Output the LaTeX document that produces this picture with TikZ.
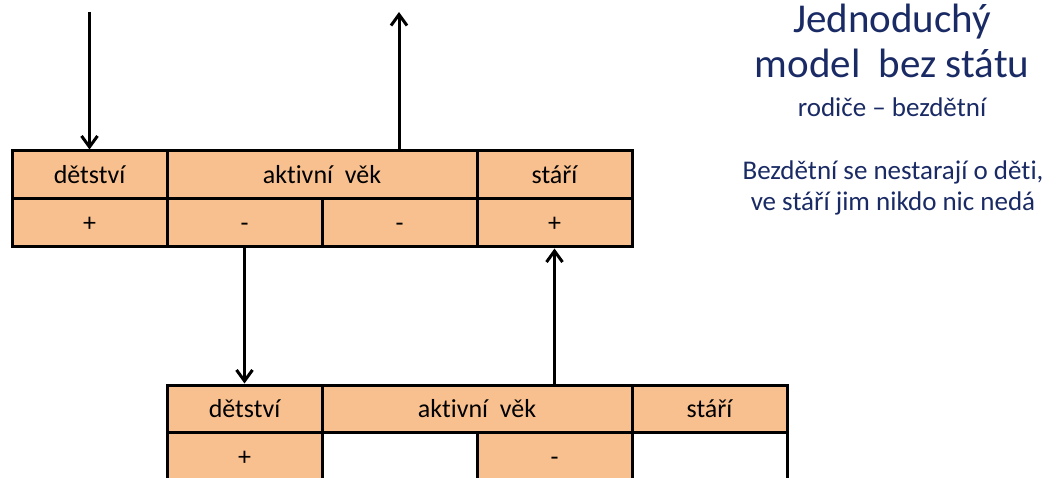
\documentclass[tikz,border=0pt]{standalone}
\usepackage{fontspec}
\setmainfont[RawFeature=-liga]{Carlito}
\usetikzlibrary{arrows.meta}
\definecolor{peach}{RGB}{249,192,143}
\definecolor{navy}{RGB}{25,42,100}
\tikzset{
  cell/.style={draw=black, line width=3pt, fill=peach, inner sep=0pt, minimum height=48pt, text height=20pt, text depth=2pt, font=\fontsize{26}{30}\selectfont, anchor=center},
  blank/.style={cell, fill=white},
  flow/.style={line width=3pt, -{Straight Barb[length=11pt,width=16pt,line width=3pt]}},
  note/.style={text=navy, align=center, inner sep=0pt, anchor=base}
}
\begin{document}
\begin{tikzpicture}[x=1pt,y=-1pt]
\useasboundingbox (0,0) rectangle (1063,478);
% top table
\node[cell, minimum width=155pt] (t11) at (89.5,175) {dětství};
\node[cell, minimum width=310pt] (t12) at (322,175) {aktivní\ \ věk};
\node[cell, minimum width=155pt] (t13) at (554.5,175) {stáří};
\node[cell, minimum width=155pt] (t21) at (89.5,223) {+};
\node[cell, minimum width=155pt] (t22) at (244.5,223) {-};
\node[cell, minimum width=155pt] (t23) at (399.5,223) {-};
\node[cell, minimum width=155pt] (t24) at (554.5,223) {+};
% bottom table
\node[cell, minimum width=155pt, minimum height=47pt] (b11) at (244.5,408.5) {dětství};
\node[cell, minimum width=310pt, minimum height=47pt] (b12) at (477,408.5) {aktivní\ \ věk};
\node[cell, minimum width=155pt, minimum height=47pt] (b13) at (709.5,408.5) {stáří};
\node[cell, minimum width=155pt] (b21) at (244.5,456) {+};
\node[blank, minimum width=155pt] (b22) at (399.5,456) {};
\node[cell, minimum width=155pt] (b23) at (554.5,456) {-};
\node[blank, minimum width=155pt] (b24) at (709.5,456) {};
% arrows
\coordinate (inTop) at (89.5,12);
\coordinate (outTop) at (399,12);
\draw[flow] (inTop) -- (t11.north);
\draw[flow] (t12.north -| outTop) -- (outTop);
\draw[flow] (t22.south) -- (b11.north);
\draw[flow] (b12.north -| t24.south) -- (t24.south);
% notes
\node[note, font=\fontsize{41}{44}\selectfont] (title1) at (892,33) {Jednoduchý};
\node[note, font=\fontsize{41}{44}\selectfont] (title2) at (892,78) {model\ \ bez státu};
\node[note, font=\fontsize{27}{30}\selectfont] (sub) at (892,117) {rodiče – bezdětní};
\node[note, font=\fontsize{27}{30}\selectfont] (txt1) at (893,180) {Bezdětní se nestarají o děti,};
\node[note, font=\fontsize{27}{30}\selectfont] (txt2) at (893,211) {ve stáří jim nikdo nic nedá};
\end{tikzpicture}
\end{document}
